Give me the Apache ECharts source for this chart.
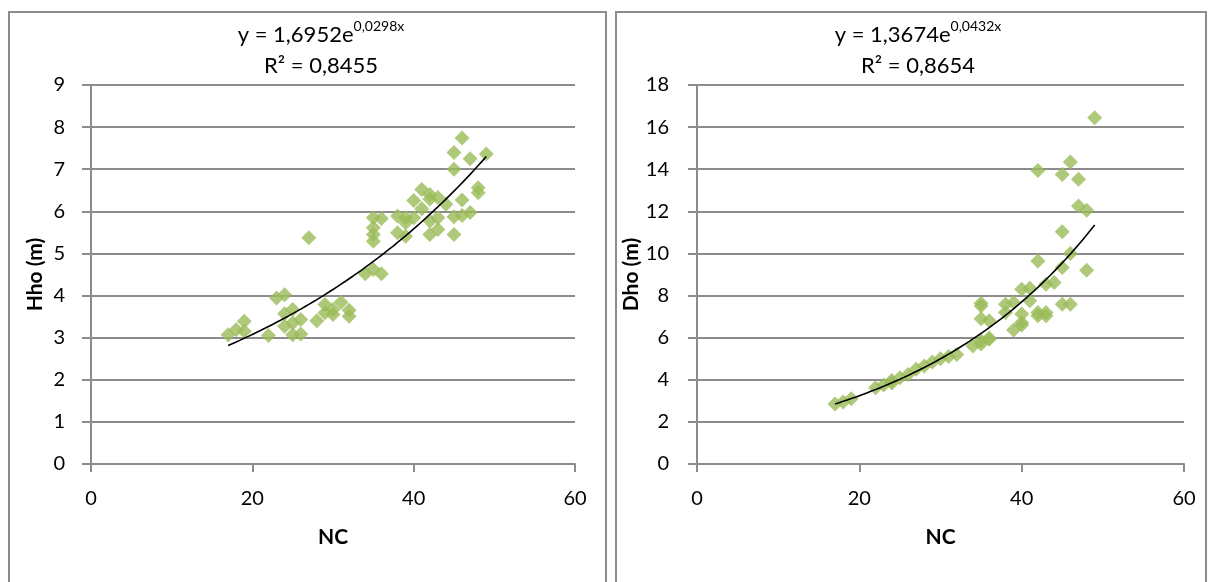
<!DOCTYPE html>
<html>
<head>
<meta charset="utf-8">
<script src="https://cdn.jsdelivr.net/npm/echarts@6/dist/echarts.min.js"></script>
<style>
  html, body { margin: 0; padding: 0; background: #fff; }
  #chart { width: 1209px; height: 582px; }
</style>
</head>
<body>
<div id="chart"></div>
<script>
// Number of live crowns (NC) against tree height and crown diameter
const xTicks = [0, 20, 40, 60];

const hhoNC = [17, 18, 19, 19, 22, 23, 24, 24, 24, 25, 25, 25, 26, 26, 27, 28, 29, 29, 30, 30,
  31, 32, 32, 34, 35, 35, 35, 35, 35, 36, 36, 38, 38, 39, 39, 39, 40, 40, 41, 41,
  42, 42, 42, 42, 43, 43, 43, 44, 45, 45, 45, 45, 46, 46, 46, 47, 47, 48, 48, 49];
const hhoVal = [3.07, 3.19, 3.39, 3.15, 3.05, 3.94, 4.02, 3.57, 3.27, 3.67, 3.35, 3.07, 3.43, 3.09, 5.37, 3.40, 3.79, 3.59, 3.67, 3.55,
  3.84, 3.65, 3.51, 4.52, 4.62, 5.85, 5.61, 5.45, 5.29, 5.83, 4.52, 5.89, 5.49, 5.85, 5.73, 5.41, 6.26, 5.85, 6.52, 6.06,
  6.40, 6.29, 5.77, 5.45, 6.33, 5.85, 5.57, 6.17, 7.40, 7.00, 5.87, 5.45, 7.74, 6.27, 5.90, 7.25, 5.97, 6.56, 6.44, 7.36];

const dhoNC = [17, 18, 19, 22, 23, 24, 24, 25, 26, 27, 28, 29, 30, 31, 32, 34, 35, 35, 35, 35,
  35, 36, 36, 36, 38, 38, 39, 39, 40, 40, 40, 40, 41, 41, 42, 42, 42, 42, 43, 43,
  43, 44, 45, 45, 45, 45, 46, 46, 46, 47, 47, 48, 48, 49];
const dhoVal = [2.85, 2.95, 3.10, 3.62, 3.75, 3.97, 3.85, 4.10, 4.25, 4.50, 4.65, 4.85, 5.00, 5.10, 5.20, 5.60, 5.70, 7.64, 7.50, 6.90,
  5.85, 6.80, 5.93, 5.98, 7.59, 7.19, 7.67, 6.37, 8.30, 7.12, 6.72, 6.60, 8.35, 7.75, 13.94, 9.64, 7.19, 7.04, 8.54, 7.19,
  7.04, 8.62, 13.75, 11.03, 9.33, 7.59, 14.34, 10.00, 7.59, 13.52, 12.25, 12.05, 9.20, 16.44];

// Exponential trend lines y = a·e^(b·x), coefficients as printed on each chart
const hhoFit = { a: 1.6952, b: 0.0298, r2: '0,8455', aTxt: '1,6952', bTxt: '0,0298' };
const dhoFit = { a: 1.3674, b: 0.0432, r2: '0,8654', aTxt: '1,3674', bTxt: '0,0432' };

function fitLine(fit, xs) {
  const lo = Math.min.apply(null, xs), hi = Math.max.apply(null, xs);
  const pts = [];
  for (let i = 0; i <= 64; i++) {
    const x = lo + (hi - lo) * i / 64;
    pts.push([x, fit.a * Math.exp(fit.b * x)]);
  }
  return pts;
}
function pairs(xs, ys) { return xs.map((x, i) => [x, ys[i]]); }

const FONT = 'Lato, "Open Sans", sans-serif';
const GRIDC = '#8c8c8c';
const FS = 20;

function xAxisFor(gridIndex) {
  return {
    gridIndex, type: 'value', min: 0, max: 60, interval: 20,
    name: 'NC', nameLocation: 'middle', nameGap: 63,
    nameTextStyle: { fontFamily: FONT, fontSize: 21, fontWeight: 'bold', color: '#000' },
    axisLine: { lineStyle: { color: GRIDC, width: 2 } },
    axisTick: { show: true, length: 8, lineStyle: { color: GRIDC, width: 2 } },
    axisLabel: { margin: 25, fontFamily: FONT, fontSize: FS, color: '#000' },
    splitLine: { show: false }
  };
}
function yAxisFor(gridIndex, name, max, interval, gap, margin) {
  return {
    gridIndex, type: 'value', min: 0, max, interval,
    name, nameLocation: 'middle', nameGap: gap,
    nameTextStyle: { fontFamily: FONT, fontSize: 21, fontWeight: 'bold', color: '#000' },
    axisLine: { show: true, lineStyle: { color: GRIDC, width: 2 } },
    axisTick: { show: true, length: 9, lineStyle: { color: GRIDC, width: 2 } },
    axisLabel: { margin, fontFamily: FONT, fontSize: FS, color: '#000' },
    splitLine: { show: true, lineStyle: { color: GRIDC, width: 2 } }
  };
}
function titleFor(fit, centerX) {
  return {
    text: '{t|y = ' + fit.aTxt + 'e}{sup|' + fit.bTxt + 'x}\n{t|R² = ' + fit.r2 + '}',
    left: centerX, top: 14, textAlign: 'center',
    textStyle: {
      fontFamily: FONT, fontSize: 22, fontWeight: 'normal', color: '#000', lineHeight: 31,
      rich: {
        t: { fontFamily: FONT, fontSize: 22, color: '#000', lineHeight: 31 },
        sup: { fontFamily: FONT, fontSize: 14, color: '#000', verticalAlign: 'top', lineHeight: 20 }
      }
    }
  };
}
function scatterFor(idx, data) {
  return {
    type: 'scatter', xAxisIndex: idx, yAxisIndex: idx, data,
    symbol: 'diamond', symbolSize: 15,
    itemStyle: { color: '#9bbb59' }, z: 2
  };
}
function trendFor(idx, data) {
  return {
    type: 'line', xAxisIndex: idx, yAxisIndex: idx, data,
    symbol: 'none', smooth: false,
    lineStyle: { color: '#000', width: 1.6 }, z: 3, silent: true
  };
}

const chart = echarts.init(document.getElementById('chart'), null, { renderer: 'canvas' });
chart.setOption({
  animation: false,
  backgroundColor: '#fff',
  title: [titleFor(hhoFit, 316), titleFor(dhoFit, 913)],
  grid: [
    { left: 91, top: 85, width: 484, height: 379 },
    { left: 697, top: 85, width: 487, height: 379 }
  ],
  xAxis: [xAxisFor(0), xAxisFor(1)],
  yAxis: [
    yAxisFor(0, 'Hho (m)', 9, 1, 45, 26),
    yAxisFor(1, 'Dho (m)', 18, 2, 45, 28)
  ],
  series: [
    scatterFor(0, pairs(hhoNC, hhoVal)),
    trendFor(0, fitLine(hhoFit, hhoNC)),
    scatterFor(1, pairs(dhoNC, dhoVal)),
    trendFor(1, fitLine(dhoFit, dhoNC))
  ],
  graphic: [
    { type: 'rect', shape: { x: 9, y: 12, width: 597, height: 590 }, style: { fill: 'none', stroke: GRIDC, lineWidth: 2 }, z: -1 },
    { type: 'rect', shape: { x: 616, y: 12, width: 590, height: 590 }, style: { fill: 'none', stroke: GRIDC, lineWidth: 2 }, z: -1 }
  ]
});
</script>
</body>
</html>
